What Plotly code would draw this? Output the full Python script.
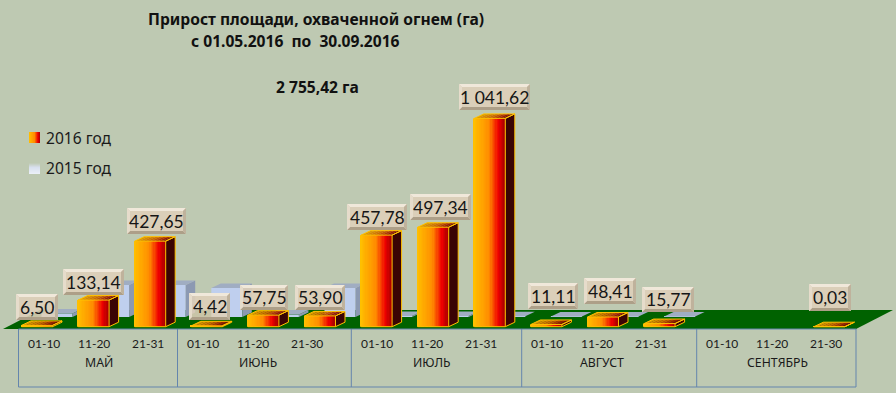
import plotly.graph_objects as go

W, H = 896, 393
BG = "#bec9b2"

periods = ["01-10","11-20","21-31","01-10","11-20","21-30","01-10","11-20","21-31",
           "01-10","11-20","21-31","01-10","11-20","21-30"]
months = ["МАЙ","ИЮНЬ","ИЮЛЬ","АВГУСТ","СЕНТЯБРЬ"]
values_2016 = [6.50,133.14,427.65,4.42,57.75,53.90,457.78,497.34,1041.62,11.11,48.41,15.77,None,None,0.03]
labels_2016 = ["6,50","133,14","427,65","4,42","57,75","53,90","457,78","497,34","1 041,62",
               "11,11","48,41","15,77",None,None,"0,03"]
values_2015 = [18,160,160,145,12,145,5,5,4,3,3,3,None,None,None]
series_names = ["2016 год","2015 год"]
title_lines = ["Прирост площади, охваченной огнем (га)","с 01.05.2016  по  30.09.2016"]
total_text = "2 755,42 га"

# --- layout geometry, in page pixels
X0, SLOT = 37.0, 56.6        # first bar centre, slot spacing
Y0, PX_PER_HA = 326.7, 0.2   # baseline, scale
BW = 31.0                    # bar front width
DX, DY = 9.5, 4.5            # 3-D depth
B_DX, B_BASE = 20.0, 317.0   # offset of back row

x_range = [-X0/SLOT, (W-X0)/SLOT]
y_range = [-(H-Y0)/PX_PER_HA, Y0/PX_PER_HA]
ux = 1/SLOT
uy = 1/PX_PER_HA
fx = lambda p: p/W
fy = lambda p: 1-p/H

def lerp_hex(stops, t):
    for (a, ca), (b, cb) in zip(stops, stops[1:]):
        if t <= b:
            k = (t-a)/(b-a)
            c = [round(int(ca[i:i+2],16)*(1-k)+int(cb[i:i+2],16)*k) for i in (1,3,5)]
            return "#%02x%02x%02x" % tuple(c)
    return stops[-1][1]

FRONT = [(0,"#ffc000"),(.5,"#ff8c00"),(.8,"#f00000"),(1.0,"#a80000")]
TOP = [(0,"#e0a000"),(.5,"#c86400"),(.8,"#a02000"),(1.0,"#601000")]
GOLD = "#ffc000"

fig = go.Figure()
fig.update_layout(width=W, height=H, margin=dict(l=0,r=0,t=0,b=0), autosize=False,
    paper_bgcolor=BG, plot_bgcolor="rgba(0,0,0,0)", showlegend=False, barmode="overlay",
    xaxis=dict(range=x_range, visible=False, domain=[0,1], fixedrange=True),
    yaxis=dict(range=y_range, visible=False, domain=[0,1], fixedrange=True),
    xaxis2=dict(range=x_range, visible=False, overlaying="x", fixedrange=True),
    yaxis2=dict(range=y_range, visible=False, overlaying="y", fixedrange=True))

shapes, ann = [], []
def poly(pts, fill, layer="below", line=None, lw=0, op=1):
    d = "M"+" L".join(f"{fx(x):.5f},{fy(y):.5f}" for x,y in pts)+" Z"
    shapes.append(dict(type="path", xref="paper", yref="paper", path=d, fillcolor=fill, layer=layer,
                       opacity=op, line=dict(color=line or fill, width=lw)))
def seg(x1,y1,x2,y2,col,lw=1,layer="below"):
    shapes.append(dict(type="line",xref="paper",yref="paper",x0=fx(x1),y0=fy(y1),x1=fx(x2),y1=fy(y2),
                       line=dict(color=col,width=lw),layer=layer))
def txt(s,x,y,size,font="Noto Sans",bold=False,anchor="center",col="#1a1a1a"):
    ann.append(dict(text=f"<b>{s}</b>" if bold else s,x=fx(x),y=fy(y),xref="paper",yref="paper",showarrow=False,
                    xanchor=anchor,yanchor="middle",font=dict(family=font,size=size,color=col),borderpad=0))

# floor
poly([(3,329),(856,329),(893,310),(40,310)],"#006200")

# table under the floor
TBL = "#6485ad"
seg(18.5,329,18.5,387,TBL); seg(18.5,387,856,387,TBL); seg(856,329,856,387,TBL); seg(18.5,329,856,329,TBL)
for d in (177.5,351.3,521.7,696.7):
    seg(d,329,d,387,TBL)
month_centres = [94,253,427,597,772]
period_offsets = [-50,0,54]
for mi,mc in enumerate(month_centres):
    txt(months[mi],mc+5,362,12.3)
    for pi,off in enumerate(period_offsets):
        txt(periods[mi*3+pi],mc+off,343.5,12,font="Lato")

# back row (2015)
bx,by,sx,sy,tx,ty=[],[],[],[],[],[]
shift = B_DX*ux
base15 = (Y0-B_BASE)*uy
for i,v in enumerate(values_2015):
    if v is None: continue
    c = i+shift; l=c-BW/2*ux; r=c+BW/2*ux; t=base15+v
    bx.append(c); by.append(v)
    sx+= [r,r+DX*ux,r+DX*ux,r,r,None]; sy+=[base15,base15+DY*uy,t+DY*uy,t,base15,None]
    tx+= [l,r,r+DX*ux,l+DX*ux,l,None]; ty+=[t,t,t+DY*uy,t+DY*uy,t,None]
fig.add_bar(x=bx,y=by,base=base15,width=BW*ux,marker=dict(color="#bfcfee",line_width=0),name=series_names[1])
fig.add_scatter(x=sx,y=sy,mode="lines",fill="toself",fillcolor="#8c99b2",line=dict(width=0),hoverinfo="skip")
fig.add_scatter(x=tx,y=ty,mode="lines",fill="toself",fillcolor="#a0adc2",line=dict(width=0),hoverinfo="skip")

# front row (2016): a bar drawn as narrow slices so it can carry a horizontal gradient
N = 24
sl_x,sl_y,sl_c=[],[],[]
for i,v in enumerate(values_2016):
    if v is None: continue
    for k in range(N):
        sl_x.append(i+(-BW/2+(k+.5)*BW/N)*ux); sl_y.append(v); sl_c.append(lerp_hex(FRONT,(k+.5)/N))
fig.add_bar(x=sl_x,y=sl_y,width=BW/N*1.5*ux,marker=dict(color=sl_c,line_width=0),xaxis="x2",yaxis="y2",name=series_names[0])
sx,sy,ex,ey=[],[],[],[]
for i,v in enumerate(values_2016):
    if v is None: continue
    l=i-BW/2*ux; r=i+BW/2*ux; dx=DX*ux; dy=DY*uy
    sx+=[r,r+dx,r+dx,r,r,None]; sy+=[0,dy,v+dy,v,0,None]
    ex+=[l,r,r,l,l,None,r,r+dx,r+dx,r,None,r,r+dx,None,l,l+dx,r+dx,None]
    ey+=[0,0,v,v,0,None,0,dy,v+dy,v,None,v,v+dy,None,v,v+dy,v+dy,None]
fig.add_scatter(x=sx,y=sy,mode="lines",fill="toself",fillcolor="#3a0404",line=dict(width=0),xaxis="x2",yaxis="y2",hoverinfo="skip")
M = 8
for k in range(M):
    px_,py_=[],[]
    for i,v in enumerate(values_2016):
        if v is None: continue
        l=i-BW/2*ux; dx=DX*ux; dy=DY*uy; w=BW*ux/M
        a=l+k*w; b=a+w*1.05
        px_+=[a,b,b+dx,a+dx,a,None]; py_+=[v,v,v+dy,v+dy,v,None]
    fig.add_scatter(x=px_,y=py_,mode="lines",fill="toself",fillcolor=lerp_hex(TOP,(k+.5)/M),line=dict(width=0),xaxis="x2",yaxis="y2",hoverinfo="skip")
fig.add_scatter(x=ex,y=ey,mode="lines",line=dict(color=GOLD,width=1),xaxis="x2",yaxis="y2",hoverinfo="skip")

# bevelled value labels: left, right, top, bottom of each box
boxes = [(16,58,294,320),(63,124,269,295),(127,186,208,234),(189,230,293,320),(240,288,285,310),(295,345,285,310),
         (347,407,204,230),(410,471,194,220),(459,530,84,110),(528,578,283,309),(584,636,278,304),(642,694,287,312),
         None,None,(809,851,284,311)]
for lab,b in zip(labels_2016,boxes):
    if b is None: continue
    l,r,t,bm=b; e=3
    poly([(l,t),(r,t),(r,bm),(l,bm)],"#decfb9",layer="above",op=.9)
    poly([(l,t),(r,t),(r-e,t+e),(l+e,t+e)],"#f0e8da",layer="above")
    poly([(l,bm),(r,bm),(r-e,bm-e),(l+e,bm-e)],"#ad9f88",layer="above")
    poly([(l,t),(l+e,t+e),(l+e,bm-e),(l,bm)],"#e6dccb",layer="above")
    poly([(r,t),(r-e,t+e),(r-e,bm-e),(r,bm)],"#bfb29c",layer="above")
    txt(lab,(l+r)/2,(t+bm)/2,17.5,font="Lato",col="#161616")

# legend
for k in range(11):
    poly([(29+k,132),(30+k,132),(30+k,143),(29+k,143)],lerp_hex(FRONT,(k+.5)/11))
for k in range(11):
    poly([(29,163+k),(40,163+k),(40,164+k),(29,164+k)],lerp_hex([(0,"#bec9b2"),(.4,"#d8e0ee"),(1,"#ecf0f8")],(k+.5)/11))
txt(series_names[0],45,138,15.6,anchor="left")
txt(series_names[1],45,168,15.6,anchor="left")

# title
txt(title_lines[0],315.5,19,15.6,bold=True,col="#111111")
txt(title_lines[1],295,41,15.6,bold=True,col="#111111")
txt(total_text,317,87,15.6,bold=True,col="#111111")

fig.update_layout(shapes=shapes, annotations=ann)
fig.write_html("out.html", config={"displayModeBar": False},
               post_script="document.body.style.margin='0';document.body.style.overflow='hidden';document.body.style.background='#bec9b2';")
